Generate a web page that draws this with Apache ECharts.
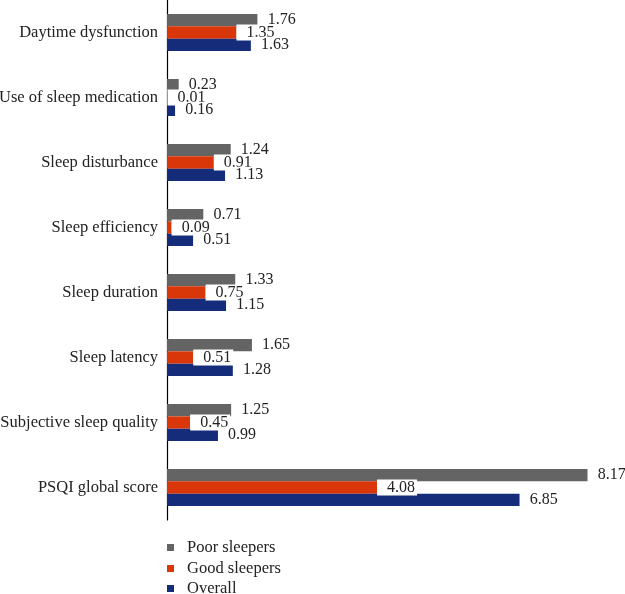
<!DOCTYPE html>
<html><head><meta charset="utf-8">
<script src="https://cdn.jsdelivr.net/npm/echarts@6/dist/echarts.min.js"></script>
<style>html,body{margin:0;padding:0;background:#fff}#c{width:625px;height:594px}</style>
</head><body><div id="c"></div>
<script>
const categories = ["Daytime dysfunction","Use of sleep medication","Sleep disturbance","Sleep efficiency","Sleep duration","Sleep latency","Subjective sleep quality","PSQI global score"];
const poorSleepers = [1.76,0.23,1.24,0.71,1.33,1.65,1.25,8.17];
const goodSleepers = [1.35,0.01,0.91,0.09,0.75,0.51,0.45,4.08];
const overall = [1.63,0.16,1.13,0.51,1.15,1.28,0.99,6.85];
const seriesNames = ["Poor sleepers","Good sleepers","Overall"];
const colors = ["#646464","#d93609","#152c7a"];
const font = "'Liberation Serif', 'DejaVu Serif', serif";
const chart = echarts.init(document.getElementById('c'));
function mk(name, data, color){
  return {
    name, type:'bar', data, barGap:'0%', barCategoryGap:'43%',
    itemStyle:{color},
    label:{show:true, position:'right', distance:0, color:'#222', fontFamily:font, fontSize:16,
      backgroundColor:'#fff', padding:[0,2,0,10], formatter:p=>p.value.toFixed(2)}
  };
}
const legendTops = [539, 560, 580];
chart.setOption({
  animation:false,
  grid:{left:167, top:0, width:448, height:520, containLabel:false, outerBoundsMode:'none'},
  xAxis:{type:'value', min:0, max:8.7, show:false},
  yAxis:{type:'category', data:categories, inverse:true,
    axisLine:{show:true, lineStyle:{color:'#000', width:1.2}},
    axisTick:{show:false},
    axisLabel:{color:'#222', fontFamily:font, fontSize:16.5, margin:9}},
  legend: seriesNames.map((n,i)=>({orient:'vertical', left:167, top:legendTops[i], padding:0,
    itemWidth:7, itemHeight:7, icon:'rect', data:[n],
    textStyle:{fontFamily:font, fontSize:16.5, color:'#222', lineHeight:16, padding:[0,0,0,8]}})),
  series:[mk(seriesNames[0], poorSleepers, colors[0]), mk(seriesNames[1], goodSleepers, colors[1]), mk(seriesNames[2], overall, colors[2])]
});
</script></body></html>
